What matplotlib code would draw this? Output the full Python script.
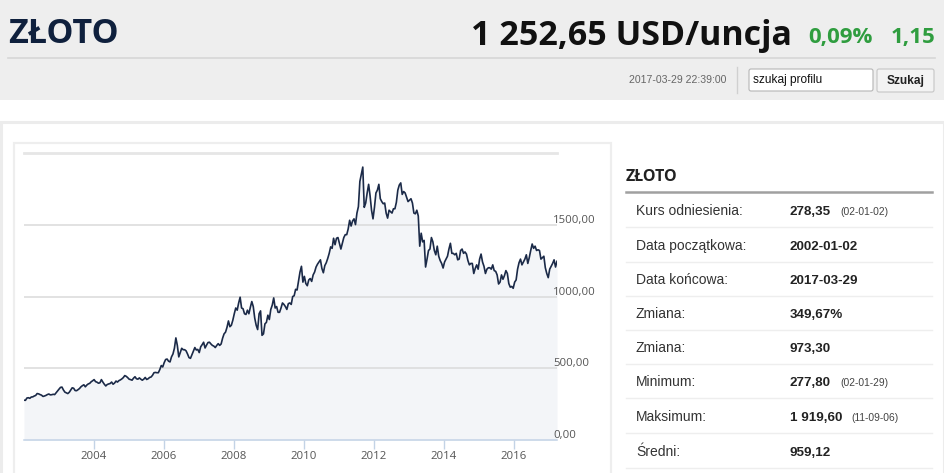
import matplotlib
matplotlib.use("Agg")
import matplotlib.pyplot as plt
import matplotlib.dates as mdates
from matplotlib.patches import Rectangle, FancyBboxPatch
import pandas as pd
import numpy as np

# ---------------- data ----------------
start_date = "2002-01-02"
end_date = "2017-03-29"
# gold price, USD/ounce, roughly two readings per month
gold_2002 = [279, 278, 294, 296, 292, 301, 302, 308, 312, 325, 323, 318,
             314, 305, 308, 312, 318, 322, 316, 317, 320, 318, 331, 345]
gold_2003 = [356, 368, 370, 350, 335, 330, 325, 334, 350, 365, 362, 346,
             345, 352, 360, 372, 380, 386, 372, 384, 392, 396, 407, 414]
gold_2004 = [422, 408, 404, 397, 400, 422, 405, 390, 378, 388, 392, 395,
             405, 390, 398, 412, 405, 415, 420, 427, 436, 450, 445, 436]
gold_2005 = [425, 422, 418, 432, 442, 428, 425, 434, 425, 418, 425, 437,
             423, 428, 437, 440, 452, 470, 472, 470, 470, 492, 520, 510]
gold_2006 = [540, 562, 565, 550, 545, 580, 600, 640, 712, 660, 580, 610,
             640, 630, 630, 622, 600, 575, 570, 595, 622, 645, 628, 632]
gold_2007 = [610, 650, 665, 682, 642, 662, 680, 682, 670, 660, 655, 645,
             660, 672, 660, 670, 710, 740, 752, 785, 830, 790, 800, 835]
gold_2008 = [880, 920, 905, 955, 995, 920, 915, 880, 875, 905, 880, 925,
             965, 930, 850, 800, 770, 880, 900, 730, 740, 810, 820, 870]
gold_2009 = [840, 910, 940, 990, 920, 930, 890, 890, 920, 955, 945, 930,
             910, 950, 955, 945, 1000, 1005, 1050, 1045, 1110, 1170, 1210, 1100]
gold_2010 = [1140, 1090, 1075, 1115, 1125, 1105, 1150, 1170, 1205, 1225, 1240, 1255,
             1195, 1165, 1215, 1235, 1265, 1300, 1345, 1335, 1405, 1360, 1405, 1410]
gold_2011 = [1370, 1330, 1370, 1410, 1430, 1430, 1470, 1530, 1490, 1525, 1540, 1500,
             1580, 1625, 1800, 1850, 1900, 1620, 1650, 1720, 1780, 1700, 1600, 1540]
gold_2012 = [1620, 1720, 1740, 1780, 1680, 1660, 1645, 1650, 1580, 1545, 1600, 1590,
             1580, 1610, 1610, 1655, 1740, 1775, 1790, 1710, 1730, 1720, 1690, 1660]
gold_2013 = [1670, 1680, 1650, 1580, 1575, 1600, 1560, 1350, 1440, 1380, 1390, 1205,
             1260, 1320, 1330, 1410, 1380, 1320, 1290, 1350, 1280, 1250, 1230, 1198]
gold_2014 = [1240, 1260, 1280, 1330, 1370, 1300, 1300, 1290, 1300, 1255, 1260, 1320,
             1330, 1300, 1310, 1295, 1250, 1220, 1230, 1230, 1160, 1195, 1220, 1190]
gold_2015 = [1260, 1295, 1240, 1210, 1160, 1190, 1200, 1200, 1190, 1220, 1180, 1175,
             1150, 1087, 1100, 1150, 1120, 1145, 1180, 1160, 1090, 1065, 1070, 1057]
gold_2016 = [1100, 1115, 1190, 1235, 1260, 1220, 1240, 1260, 1290, 1230, 1270, 1320,
             1365, 1335, 1350, 1320, 1325, 1320, 1260, 1270, 1280, 1200, 1160, 1131]
gold_2017 = [1190, 1210, 1230, 1255, 1205, 1245]

y_levels = [0, 500, 1000, 1500]
y_labels = ["0,00", "500,00", "1000,00", "1500,00"]
y_top = 2000

title = "ZŁOTO"
price_text = "1 252,65 USD/uncja"
change_pct = "0,09%"
change_abs = "1,15"
timestamp = "2017-03-29 22:39:00"
search_placeholder = "szukaj profilu"
search_button = "Szukaj"

stat_labels = ["Kurs odniesienia:", "Data początkowa:", "Data końcowa:", "Zmiana:",
               "Zmiana:", "Minimum:", "Maksimum:", "Średni:"]
stat_values = ["278,35", "2002-01-02", "2017-03-29", "349,67%",
               "973,30", "277,80", "1 919,60", "959,12"]
stat_notes = ["(02-01-02)", "", "", "", "", "(02-01-29)", "(11-09-06)", ""]

# ---------------- figure ----------------
W, H = 945, 473
fig = plt.figure(figsize=(W / 100, H / 100), dpi=100)
fig.patch.set_facecolor("white")

page = fig.add_axes([0, 0, 1, 1], zorder=0)
page.set_xlim(0, W)
page.set_ylim(H, 0)
page.axis("off")

# header band
page.add_patch(Rectangle((0, 0), W, 100.5, facecolor="#eeeeee", edgecolor="none"))
page.plot([8, 935], [58, 58], color="#d6d6d6", lw=1.2)
page.text(8, 43, title, fontsize=24.5, fontweight="bold", family="Open Sans",
          color="#0f203d", ha="left", va="baseline")
page.text(792, 45, price_text, fontsize=24.5, fontweight="bold", family="Open Sans",
          color="#111111", ha="right", va="baseline")
page.text(808, 43, change_pct, fontsize=16, fontweight="bold", family="Open Sans",
          color="#2f9d3f", ha="left", va="baseline")
page.text(935, 43, change_abs, fontsize=16, fontweight="bold", family="Open Sans",
          color="#2f9d3f", ha="right", va="baseline")

page.text(726, 80, timestamp, fontsize=7.6, family="Liberation Sans",
          color="#666666", ha="right", va="center")
page.plot([737, 737], [67, 93], color="#d0d0d0", lw=1)
page.add_patch(FancyBboxPatch((749, 69), 124, 22, boxstyle="round,pad=0,rounding_size=2",
                              facecolor="white", edgecolor="#b5b5b5", lw=0.8))
page.text(753, 80, search_placeholder, fontsize=8.6, family="Liberation Sans",
          color="#111111", ha="left", va="center")
page.add_patch(FancyBboxPatch((877, 69), 57, 23, boxstyle="round,pad=0,rounding_size=2",
                              facecolor="#f3f3f3", edgecolor="#c6c6c6", lw=0.8))
page.text(905.5, 81, search_button, fontsize=8.6, fontweight="bold", family="Liberation Sans",
          color="#222222", ha="center", va="center")

# content boxes
page.add_patch(Rectangle((1.2, 122), 942.5, 360, facecolor="white", edgecolor="#ececec", lw=2.2))
page.add_patch(Rectangle((14, 143), 597, 340, facecolor="white", edgecolor="#eeeeee", lw=1.6))

# stats panel
page.text(626, 181, title, fontsize=11.5, fontweight="bold", family="Open Sans",
          color="#222222", ha="left", va="baseline")
page.plot([626, 932], [192, 192], color="#a0a0a0", lw=1.8)
row_y = [210, 244.5, 279, 313, 347, 381, 416, 451]
for i, (lab, val, note) in enumerate(zip(stat_labels, stat_values, stat_notes)):
    yb = row_y[i] + 5
    page.text(636, yb, lab, fontsize=10, family="Liberation Sans", color="#333333",
              ha="left", va="baseline")
    t = page.text(790, yb, val, fontsize=9.6, fontweight="bold", family="Liberation Sans",
                  color="#222222", ha="left", va="baseline")
    if note:
        fig.canvas.draw()
        bb = t.get_window_extent()
        page.text(bb.x1 + 9, yb, note, fontsize=7.4, family="Liberation Sans",
                  color="#444444", ha="left", va="baseline")
    page.plot([626, 932], [row_y[i] + 17, row_y[i] + 17], color="#eeeeee", lw=1)

# ---------------- chart ----------------
values = (gold_2002 + gold_2003 + gold_2004 + gold_2005 + gold_2006 + gold_2007 +
          gold_2008 + gold_2009 + gold_2010 + gold_2011 + gold_2012 + gold_2013 +
          gold_2014 + gold_2015 + gold_2016 + gold_2017)
dates = pd.date_range(start_date, end_date, periods=len(values))

left, right, top, bottom = 24, 557, 152.7, 440.3
ax = fig.add_axes([left / W, 1 - bottom / H, (right - left) / W, (bottom - top) / H], zorder=2)
ax.patch.set_alpha(0)
ax.fill_between(dates, values, 0, color="#f3f5f8", lw=0, zorder=1)
for lv in y_levels[1:]:
    ax.axhline(lv, color="#dadada", lw=1.1, zorder=2)
ax.axhline(y_top, color="#e6e6e6", lw=2.0, zorder=2, clip_on=False)
ax.plot(dates, values, color="#1b2a48", lw=1.2, zorder=3)
ax.set_xlim(dates[0], dates[-1])
ax.set_ylim(0, y_top)

for s in ["top", "left", "right"]:
    ax.spines[s].set_visible(False)
ax.spines["bottom"].set_color("#c3d3e6")
ax.spines["bottom"].set_linewidth(1.1)
ax.set_yticks([])
ax.xaxis.set_major_locator(mdates.YearLocator(2))
ax.xaxis.set_major_formatter(mdates.DateFormatter("%Y"))
ax.tick_params(axis="x", length=6.5, width=1, color="#c3d3e6", pad=1,
               labelsize=8.2, labelcolor="#555555")
for lbl in ax.get_xticklabels():
    lbl.set_family("Open Sans")

for lv, lab in zip(y_levels, y_labels):
    ax.annotate(lab, xy=(1, lv), xycoords=("axes fraction", "data"),
                xytext=(-4, 2), textcoords="offset pixels", ha="left", va="baseline",
                fontsize=8.2, family="Open Sans", color="#555555", annotation_clip=False)

fig.savefig("out.png", dpi=100)
